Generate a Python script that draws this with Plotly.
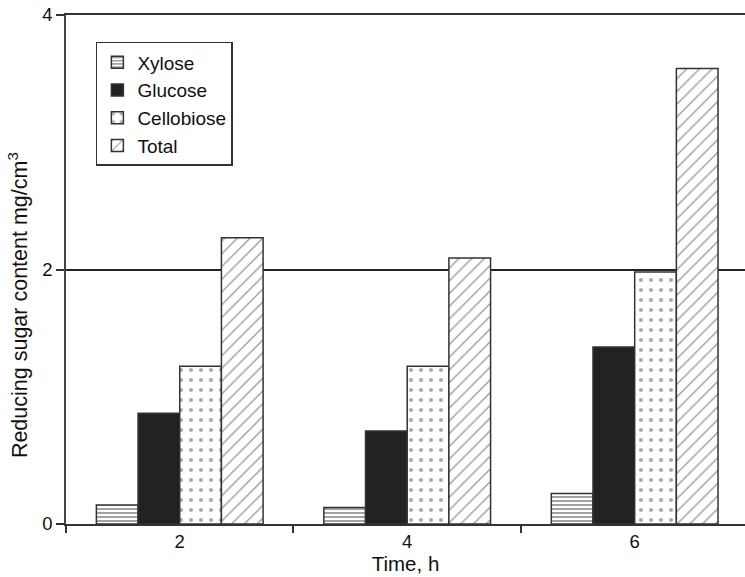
import plotly.graph_objects as go

times = ["2", "4", "6"]
xylose = [0.15, 0.13, 0.24]
glucose = [0.87, 0.73, 1.39]
cellobiose = [1.24, 1.24, 1.98]
total = [2.25, 2.09, 3.58]

series_names = ["Xylose", "Glucose", "Cellobiose", "Total"]
series_values = [xylose, glucose, cellobiose, total]
styles = [
    dict(shape="-", fgcolor="#333333", bgcolor="white", size=4, solidity=0.45),
    dict(shape="", fgcolor="#222222", bgcolor="#222222"),
    dict(shape=".", fgcolor="#555555", bgcolor="white", size=10, solidity=0.14),
    dict(shape="/", fgcolor="#333333", bgcolor="white", size=9, solidity=0.15),
]
fills = ["white", "#222222", "white", "white"]

fig = go.Figure()
for name, vals, st, fc in zip(series_names, series_values, styles, fills):
    pattern = st if st["shape"] else None
    marker = dict(color=fc, line=dict(color="#333333", width=1.5))
    if pattern:
        marker["pattern"] = pattern
    fig.add_trace(go.Bar(x=times, y=vals, name=name, marker=marker))

font_family = "Liberation Sans, Arial, sans-serif"
fig.update_layout(
    width=745, height=577,
    margin=dict(l=66, r=0, t=15, b=53),
    paper_bgcolor="white", plot_bgcolor="white",
    barmode="group", bargap=0.267, bargroupgap=0,
    font=dict(family=font_family, size=18, color="#111111"),
    legend=dict(
        x=0.044, y=0.947, xanchor="left", yanchor="top",
        bordercolor="#333333", borderwidth=1.5, bgcolor="white",
        font=dict(size=19), tracegroupgap=0, itemwidth=30,
    ),
    xaxis=dict(
        type="category", range=[-0.5, 2.485], automargin=False,
        tickson="boundaries", ticks="outside", ticklen=7, tickwidth=1.5,
        tickcolor="#333333", showline=True, linecolor="#333333", linewidth=1.5,
        mirror=True,
        showgrid=False, title=dict(text="Time, h", standoff=5, font=dict(size=20.5)),
        tickfont=dict(size=18.5),
    ),
    yaxis=dict(
        range=[0, 4], tickvals=[0, 2, 4], ticks="outside", ticklen=8,
        tickwidth=1.5, tickcolor="#333333", automargin=False,
        showline=True, linecolor="#444444", linewidth=1.5,
        showgrid=True, gridcolor="#222222", gridwidth=1.5, zeroline=False,
        tickfont=dict(size=18.5),
    ),
    annotations=[dict(
        text="Reducing sugar content mg/cm<sup>3</sup>",
        xref="paper", yref="paper", x=-0.0707, y=0.43,
        xanchor="center", yanchor="middle", textangle=-90,
        showarrow=False, font=dict(size=21.5, color="#111111"),
    )],
)

fig.write_html("out.html", config={"displayModeBar": False},
               post_script="document.body.style.margin='0';")
